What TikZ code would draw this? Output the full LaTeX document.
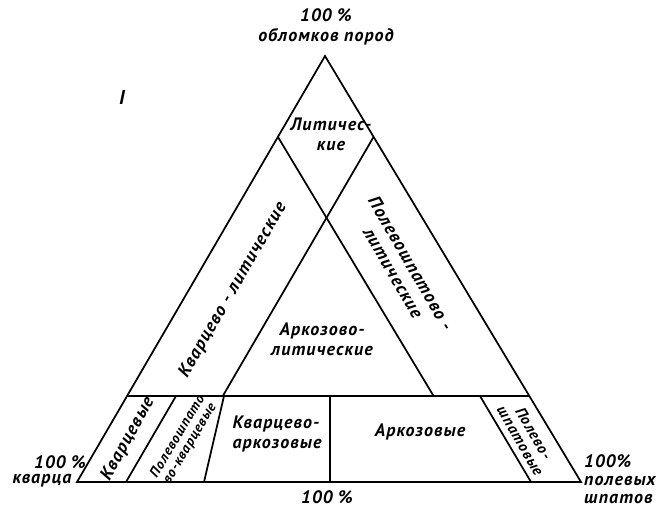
\documentclass[tikz,border=0pt]{standalone}
\usepackage{fontspec}
\setmainfont{PT Sans}[LetterSpace=6]
\usepackage{tikz}

\begin{document}
\begin{tikzpicture}[x=0.75pt, y=-0.75pt, line width=1.3pt,
    main_text/.style={font=\bfseries\itshape\fontsize{13.5}{15}\selectfont, inner sep=1pt, align=center},
    small_text/.style={main_text, font=\bfseries\itshape\fontsize{10.5}{10.5}\selectfont}]

    \useasboundingbox (0, 0) rectangle (659, 510);

    \coordinate (A) at (325, 56);
    \coordinate (L) at (77, 482);
    \coordinate (R) at (581, 482);
    \coordinate (H1) at (127.1, 396);
    \coordinate (H2) at (529.3, 396);
    \coordinate (P1) at (277.9, 136.9);
    \coordinate (P2) at (373.6, 136.9);
    \coordinate (Q1) at (433.6, 396);
    \coordinate (Q2) at (222.8, 396);
    \coordinate (b1) at (176, 396);
    \coordinate (c1) at (126, 482);
    \coordinate (b2) at (224, 396);
    \coordinate (c2) at (204, 482);
    \coordinate (b3) at (330, 396);
    \coordinate (c3) at (330, 482);
    \coordinate (b4) at (480, 396);
    \coordinate (c4) at (531, 482);

    \draw (A) -- (L) -- (R) -- cycle;
    \draw (H1) -- (H2);
    \draw (P1) -- (Q1);
    \draw (P2) -- (Q2);
    \draw (b1) -- (c1);
    \draw (b2) -- (c2);
    \draw (b3) -- (c3);
    \draw (b4) -- (c4);

    \node[main_text] (t1) at (326, 27) {100 \%\\обломков пород};
    \node[main_text, font=\bfseries\itshape\fontsize{15}{15}\selectfont] (t2) at (122, 97) {I};
    \node[main_text] (t3) at (331, 134) {Литичес-\\кие};
    \node[main_text, rotate=60] (t4) at (233, 290) {Кварцево - литические};
    \node[main_text, rotate=-60] (t5) at (402, 268) {Полевошпатово -\\литические};
    \node[main_text] (t6) at (322, 339) {Аркозово-\\литические};
    \node[main_text, rotate=61] (t7) at (128, 439) {Кварцевые};
    \node[small_text, rotate=59, inner sep=0pt] (t8) at (184, 440) {Полевошпато\\во-кварцевые};
    \node[main_text, align=left] (t9) at (277, 434) {Кварцево-\\аркозовые};
    \node[main_text] (t10) at (420, 432) {Аркозовые};
    \node[small_text, rotate=-60, font=\bfseries\itshape\fontsize{11.5}{11.5}\selectfont] (t11) at (527, 437) {Полево-\\шпатовые};
    \node[main_text] (t12) at (60, 462) {100 \%};
    \node[main_text] (t13) at (42, 481) {кварца};
    \node[main_text] (t14) at (327, 497) {100 \%};
    \node[main_text, align=left, anchor=north west, font=\bfseries\itshape\fontsize{13.5}{13.5}\selectfont] (t15) at (582, 452) {100\%\\полевых\\шпатов};
\end{tikzpicture}
\end{document}
